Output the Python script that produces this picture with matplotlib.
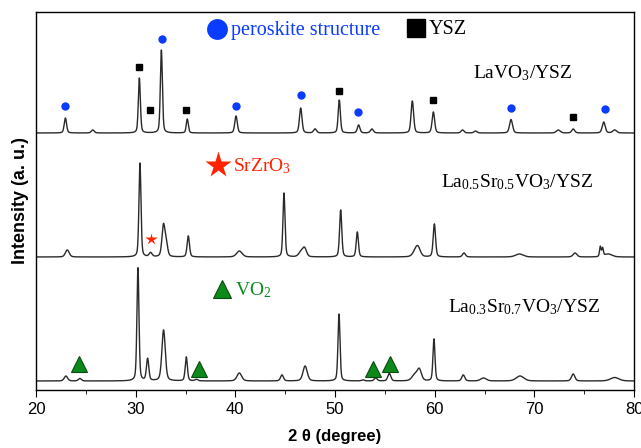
import numpy as np
import matplotlib
matplotlib.use("Agg")
import matplotlib.pyplot as plt

plt.rcParams['font.family'] = ['Liberation Sans', 'DejaVu Sans']
plt.rcParams['mathtext.fontset'] = 'custom'
plt.rcParams['mathtext.rm'] = 'Liberation Serif'
plt.rcParams['mathtext.it'] = 'Liberation Serif:italic'

# peak lists: position (2 theta), height (a.u.), width (deg)
top_pos = [22.95, 25.7, 30.37, 32.58, 35.18, 40.07, 46.56, 48.0, 50.43, 52.37,
           53.7, 57.76, 59.87, 62.8, 64.1, 67.66, 72.4, 73.9, 76.96, 78.06]
top_h = [15, 3, 55, 83, 14, 17, 25, 4, 33, 8,
         4, 32, 21, 3, 2, 13.5, 3, 4, 11, 3]
top_w = [0.28, 0.35, 0.24, 0.24, 0.24, 0.3, 0.3, 0.35, 0.26, 0.3,
         0.35, 0.3, 0.3, 0.35, 0.35, 0.35, 0.45, 0.35, 0.35, 0.45]

mid_pos = [23.14, 30.43, 31.5, 32.78, 33.05, 35.28, 40.4, 44.88, 46.6, 46.95,
           50.57, 52.24, 58.1, 58.35, 59.97, 62.94, 68.5, 74.08, 76.62, 76.85, 77.4]
mid_h = [7, 94, 4, 30, 14, 21, 6, 64, 5, 8,
         47, 25, 6, 7, 33, 4, 3, 4, 10, 8, 3]
mid_w = [0.45, 0.24, 0.35, 0.35, 0.35, 0.28, 0.65, 0.24, 0.55, 0.45,
         0.26, 0.26, 0.65, 0.55, 0.28, 0.35, 0.9, 0.45, 0.18, 0.18, 0.9]

bot_pos = [23.0, 24.4, 30.23, 31.2, 32.8, 35.08, 36.1, 40.4, 44.68, 47.0,
           50.4, 52.8, 54.08, 55.45, 58.0, 58.46, 59.93, 62.87, 64.9, 68.56, 73.9, 78.06]
bot_h = [5, 2.5, 113, 22, 51, 24, 1.5, 8, 6, 15,
         67, 1, 3, 7.5, 6, 11, 42, 6, 3, 5, 7, 3.5]
bot_w = [0.4, 0.35, 0.24, 0.28, 0.4, 0.26, 0.35, 0.55, 0.35, 0.5,
         0.24, 0.35, 0.35, 0.35, 0.65, 0.5, 0.24, 0.35, 0.65, 0.9, 0.4, 1.0]

offsets = [257, 133, 9]

# phase markers (x, y)
perov_x = [22.9, 32.6, 40.1, 46.6, 52.35, 67.7, 77.1]
perov_y = [284, 351, 284, 295, 278, 282, 281]
ysz_x = [30.3, 31.4, 35.1, 50.4, 59.8, 73.9]
ysz_y = [323, 280, 280, 299, 290, 273]
srzr_x = [31.54]
srzr_y = [151]
vo2_x = [24.35, 36.4, 53.85, 55.5]
vo2_y = [26, 21, 21, 26]


def pattern(x, pos, h, w):
    y = np.zeros_like(x)
    for p, a, fw in zip(pos, h, w):
        d = (x - p) / (fw / 2)
        lor = 1 / (1 + d ** 2)
        gau = np.exp(-np.log(2) * d ** 2)
        y += a * (0.35 * lor + 0.65 * gau)
    return y


x = np.linspace(20, 80, 4001)

fig = plt.figure(figsize=(6.41, 4.48), dpi=100)
ax = fig.add_axes([36 / 641, 58 / 448, 598 / 641, 378 / 448])

for (pos, h, w), off in zip([(top_pos, top_h, top_w), (mid_pos, mid_h, mid_w),
                             (bot_pos, bot_h, bot_w)], offsets):
    ax.plot(x, off + pattern(x, pos, h, w), color='#2a2a2a', lw=1.0)

blue = '#0a3cff'
red = '#ff2200'
green = '#0b8a1a'

ax.plot(perov_x, perov_y, 'o', color=blue, ms=6, mec='none')
ax.plot(ysz_x, ysz_y, 's', color='black', ms=5)
ax.plot(srzr_x, srzr_y, '*', color=red, ms=9, mec='none')
ax.plot(vo2_x, vo2_y, '^', color=green, ms=12, mec='#0b4a12', mew=0.8)

# legend-like labels
serif = 'Liberation Serif'
ax.plot([38.16], [361], 'o', color=blue, ms=15, mec='none')
ax.text(39.6, 360, 'peroskite structure', color=blue, fontsize=14.5, family=serif, va='center')
ax.plot([58.1], [362], 's', color='black', ms=13)
ax.text(59.4, 361, 'YSZ', color='black', fontsize=14.5, family=serif, va='center')
ax.text(63.8, 317, r'LaVO$_\mathregular{3}$/YSZ', fontsize=14, family=serif, va='center')

ax.plot([38.26], [225], '*', color=red, ms=20, mec='none')
ax.text(39.8, 224, r'SrZrO$_\mathregular{3}$', color=red, fontsize=14, family=serif, va='center')
ax.text(60.6, 208, r'La$_\mathregular{0.5}$Sr$_\mathregular{0.5}$VO$_\mathregular{3}$/YSZ',
        fontsize=14, family=serif, va='center')

ax.plot([38.63], [101], '^', color=green, ms=13, mec='#0b4a12', mew=0.8)
ax.text(40.0, 100, r'VO$_\mathregular{2}$', color=green, fontsize=14, family=serif, va='center')
ax.text(61.3, 83, r'La$_\mathregular{0.3}$Sr$_\mathregular{0.7}$VO$_\mathregular{3}$/YSZ',
        fontsize=14, family=serif, va='center')

ax.set_xlim(20, 80)
ax.set_ylim(0, 378)
ax.set_xticks(np.arange(20, 81, 10))
ax.set_xticks(np.arange(25, 80, 10), minor=True)
ax.set_yticks([])
ax.tick_params(axis='x', which='major', direction='out', length=5, labelsize=12)
ax.tick_params(axis='x', which='minor', direction='out', length=3)
for s in ax.spines.values():
    s.set_linewidth(1.0)
ax.set_xlabel('2 θ (degree)', fontsize=12, fontweight='bold', labelpad=9)
ax.set_ylabel('Intensity (a. u.)', fontsize=13, fontweight='bold', labelpad=5)

fig.savefig('out.png', dpi=100)
